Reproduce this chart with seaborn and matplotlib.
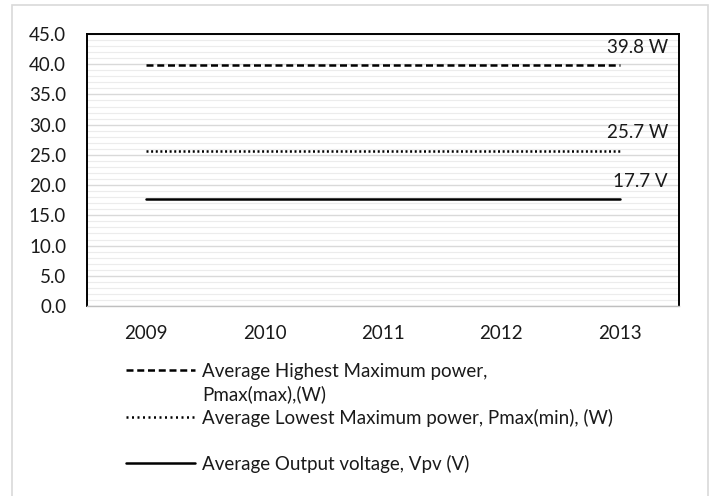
import numpy as np
import pandas as pd
import matplotlib
matplotlib.use("Agg")
import matplotlib.pyplot as plt
from matplotlib.lines import Line2D
from matplotlib.patches import Rectangle
import seaborn as sns

# data
years = ["2009", "2010", "2011", "2012", "2013"]
pmax_max = [39.8, 39.8, 39.8, 39.8, 39.8]
pmax_min = [25.7, 25.7, 25.7, 25.7, 25.7]
vpv = [17.7, 17.7, 17.7, 17.7, 17.7]
end_labels = ["39.8 W", "25.7 W", "17.7 V"]
legend_labels = ["Average Highest Maximum power,", "Pmax(max),(W)",
                 "Average Lowest Maximum power, Pmax(min), (W)", "",
                 "Average Output voltage, Vpv (V)"]

sns.set_theme(style="white")
plt.rcParams['font.family'] = ['Lato', 'DejaVu Sans']
FS = 13.5

fig = plt.figure(figsize=(7.11, 4.96), dpi=100)
W, H = 711, 496
ax = fig.add_axes([87 / W, 1 - 306 / H, (679 - 87) / W, (306 - 34) / H])

# outer chart border
fig.patches.append(Rectangle((12 / W, -0.01), (708 - 12) / W, (1 - 5 / H) + 0.01,
                             transform=fig.transFigure, fill=False,
                             edgecolor="#d9d9d9", linewidth=1.2))

x = np.arange(len(years))
series = [pmax_max, pmax_min, vpv]
styles = [(0, (2.8, 1.5)), (0, (0.8, 1.05)), "-"]

for vals, ls, lab in zip(series, styles, end_labels):
    sns.lineplot(x=x, y=vals, ax=ax, color="black", linewidth=1.8, linestyle=ls)
    ax.annotate(lab, xy=(x[-1], vals[-1]), xytext=(48, 18),
                textcoords="offset pixels", ha="right", va="center",
                fontsize=FS, color="#1a1a1a")

ax.set_xlim(-0.5, len(years) - 0.5)
ax.set_ylim(0, 45)
ax.set_xticks(x)
ax.set_xticklabels(years)
ax.set_yticks(np.arange(0, 46, 5))
ax.set_yticklabels([f"{v:.1f}" for v in np.arange(0, 46, 5)])
ax.set_yticks(np.arange(0, 46, 1), minor=True)
ax.grid(axis="y", which="major", color="#d9d9d9", linewidth=1.0)
ax.grid(axis="y", which="minor", color="#ececec", linewidth=0.8)
ax.set_axisbelow(True)
ax.tick_params(axis="both", which="both", length=0, labelsize=FS, colors="#1a1a1a")
ax.tick_params(axis="y", pad=15)
ax.tick_params(axis="x", pad=14)

for side in ["left", "top", "right"]:
    ax.spines[side].set_color("black")
    ax.spines[side].set_linewidth(1.4)
ax.spines["bottom"].set_color("#bfbfbf")
ax.spines["bottom"].set_linewidth(1.0)

handles = [
    Line2D([], [], color="black", linewidth=1.8, linestyle=styles[0]),
    Line2D([], [], color="none"),
    Line2D([], [], color="black", linewidth=1.8, linestyle=(0, (0.8, 1.4))),
    Line2D([], [], color="none"),
    Line2D([], [], color="black", linewidth=1.8, linestyle=styles[2]),
]
fig.legend(handles, legend_labels, loc="upper left",
           bbox_to_anchor=(126 / W, 1 - 363 / H), frameon=False, borderpad=0,
           borderaxespad=0, fontsize=FS, handlelength=3.7, handletextpad=0.37,
           labelspacing=0.29, labelcolor="#1a1a1a")

fig.savefig("out.png", dpi=100)
